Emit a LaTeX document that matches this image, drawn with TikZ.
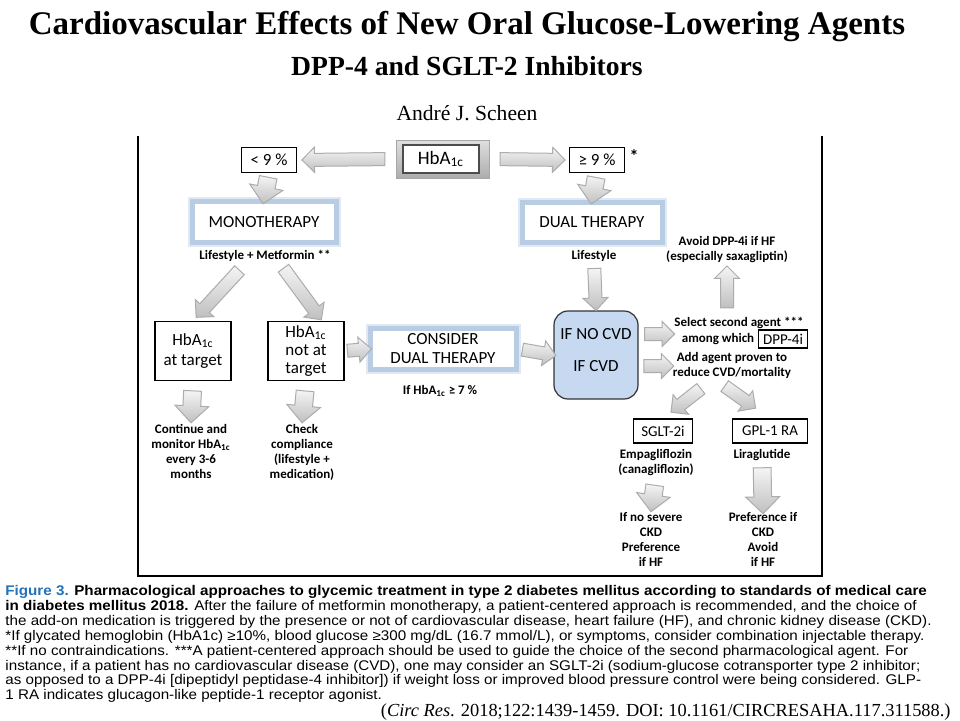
\documentclass[tikz,border=0pt]{standalone}
\usepackage{fontspec}
\setmainfont{Carlito}
\newfontfamily\timesfont{Liberation Serif}
\newfontfamily\arialfont{Liberation Sans}
\usetikzlibrary{shapes.arrows}
\definecolor{glow}{RGB}{184,204,228}
\definecolor{cvdblue}{RGB}{198,217,241}
\definecolor{figblue}{RGB}{35,113,185}
\newcommand{\hbaic}{HbA\textsubscript{1c}}

\begin{document}
\begin{tikzpicture}[x=0.5pt,y=-0.5pt,
  box/.style={draw, line width=0.8pt, fill=white, inner sep=0pt, align=center, font=\fontsize{8.5}{10}\selectfont},
  glowbox/.style={box, draw=glow, line width=2.5pt, preaction={draw=glow!45, line width=4.5pt}},
  lbl/.style={align=center, inner sep=0pt, font=\bfseries\fontsize{6.5}{7.5}\selectfont},
  fat/.style={single arrow, draw=gray!65, line width=0.5pt, top color=gray!8, bottom color=gray!50,
    inner sep=3pt, single arrow head extend=3pt, minimum height=#1, sloped, allow upside down, midway},
  stub/.style={fat=#1, inner sep=4.2pt, single arrow head extend=4pt}]
\fill[white] (0,0) rectangle (960,720);
\useasboundingbox (0,0) rectangle (960,720);

\node[font=\timesfont\bfseries\fontsize{16.5}{18}\selectfont] (title) at (467,27) {Cardiovascular Effects of New Oral Glucose-Lowering Agents};
\node[font=\timesfont\bfseries\fontsize{13.8}{16}\selectfont] (subtitle) at (467,66) {DPP-4 and SGLT-2 Inhibitors};
\node[font=\timesfont\fontsize{10.8}{13}\selectfont] (author) at (467,113) {André J. Scheen};

\draw[line width=0.8pt] (138,136) -- (138,576) -- (822,576) -- (822,136);

\node[draw=gray!70, line width=0.5pt, top color=gray!25, bottom color=gray!65, minimum width=46.5pt, minimum height=19pt] (hbaout) at (443,159) {};
\node[box, draw=gray!60!black, font=\fontsize{9.5}{11}\selectfont, minimum width=38pt, minimum height=14pt] (hba) at (441,159) {\hbaic};
\node[box, minimum width=27.5pt, minimum height=12.5pt] (lt) at (269,160) {< 9 \%};
\node[box, minimum width=27.5pt, minimum height=12.5pt] (ge) at (597,160) {≥ 9 \%};
\node[font=\bfseries\fontsize{9}{10}\selectfont] (star) at (634,156) {*};

\node[glowbox, minimum width=72pt, minimum height=20.5pt] (mono) at (264,222) {MONOTHERAPY};
\node[glowbox, minimum width=70pt, minimum height=20pt] (dual) at (592,222) {DUAL THERAPY};
\node[lbl] (lifemet) at (265,256) {Lifestyle + Metformin **};
\node[lbl] (life) at (594,256) {Lifestyle};
\node[lbl] (avoid) at (727,250) {Avoid DPP-4i if HF\\(especially saxagliptin)};

\node[box, minimum width=38pt, minimum height=29.5pt, font=\fontsize{8.5}{10}\selectfont] (attarget) at (193,351) {\hbaic\\at target};
\node[box, minimum width=38pt, minimum height=29.5pt, font=\fontsize{8.5}{9.2}\selectfont] (notat) at (306,351) {\hbaic\\not at\\target};
\node[glowbox, minimum width=73pt, minimum height=20.5pt, font=\fontsize{8.5}{9.5}\selectfont] (consider) at (443,349) {CONSIDER\\DUAL THERAPY};
\node[lbl] (if7) at (440,391) {If \hbaic{} ≥ 7 \%};

\node[draw=gray!40!black, line width=0.6pt, fill=cvdblue, rounded corners=7pt, minimum width=42pt, minimum height=44pt] (cvd) at (596,355) {};
\node[font=\fontsize{8.5}{10}\selectfont] (nocvd) at (596,334) {IF NO CVD};
\node[font=\fontsize{8.5}{10}\selectfont] (ifcvd) at (596,366) {IF CVD};

\node[lbl] (select) at (739,323) {Select second agent ***};
\node[lbl] (among) at (718,339) {among which};
\node[box, minimum width=24.5pt, minimum height=9pt, line width=0.6pt, font=\fontsize{7.5}{9}\selectfont] (dpp) at (783,339) {DPP-4i};
\node[lbl] (addagent) at (732,365) {Add agent proven to\\reduce CVD/mortality};

\node[box, minimum width=29.5pt, minimum height=12pt, line width=0.6pt, font=\fontsize{7.5}{9}\selectfont] (sglt) at (663,431) {SGLT-2i};
\node[box, minimum width=37.5pt, minimum height=12pt, line width=0.6pt, font=\fontsize{7.5}{9}\selectfont] (glp) at (770,431) {GPL-1 RA};
\node[lbl] (empa) at (656,463) {Empagliflozin\\(canagliflozin)};
\node[lbl] (lira) at (762,455) {Liraglutide};

\node[lbl] (cont) at (191,451) {Continue and\\monitor \hbaic\\every 3-6\\months};
\node[lbl] (check) at (302,452) {Check\\compliance\\(lifestyle +\\medication)};
\node[lbl] (nosev) at (651,539) {If no severe\\CKD\\Preference\\if HF};
\node[lbl] (prefck) at (763,539) {Preference if\\CKD\\Avoid\\if HF};

\path (hbaout.west) -- (lt.east) node[fat=41.5pt] {};
\path (hbaout.east) -- (ge.west) node[fat=32.5pt] {};
\path (lt.south) -- (mono.north) node[stub=13.5pt] {};
\path (ge.south) -- (dual.north) node[stub=13.5pt] {};
\path ([xshift=-9pt]lifemet.south) -- (attarget.north) node[fat=32pt] {};
\path ([xshift=7pt]lifemet.south) -- ([xshift=8pt]notat.north) node[fat=32pt] {};
\path (attarget.south) -- (cont.north) node[stub=16pt] {};
\path (notat.south) -- (check.north) node[stub=16pt] {};
\path (notat.east) -- (consider.west) node[fat=12pt] {};
\path (consider.east) -- (cvd.west) node[fat=17pt] {};
\path (life.south) -- (cvd.north) node[fat=21pt] {};
\path (avoid.south |- select.north) -- (avoid.south) node[fat=21pt] {};
\path (nocvd -| cvd.east) -- (nocvd -| select.west) node[fat=15pt] {};
\path (ifcvd -| cvd.east) -- (ifcvd -| addagent.west) node[fat=15pt] {};
\path ([xshift=-9pt]addagent.south) -- (sglt.north) node[fat=19pt] {};
\path ([xshift=-9pt]addagent.south) -- (glp.north) node[fat=19pt, pos=0.42] {};
\path (empa.south) -- (nosev.north) node[stub=12.5pt] {};
\path (lira.south) -- (prefck.north) node[stub=23pt] {};

\node[anchor=north west, align=left, inner sep=0pt, xscale=1.085, font=\arialfont\fontsize{7}{7.45}\selectfont] (caption) at (5,585) {\textbf{\textcolor{figblue}{Figure 3.} Pharmacological approaches to glycemic treatment in type 2 diabetes mellitus according to standards of medical care}\\
\textbf{in diabetes mellitus 2018.} After the failure of metformin monotherapy, a patient-centered approach is recommended, and the choice of\\
the add-on medication is triggered by the presence or not of cardiovascular disease, heart failure (HF), and chronic kidney disease (CKD).\\
*If glycated hemoglobin (HbA1c) ≥10\%, blood glucose ≥300 mg/dL (16.7 mmol/L), or symptoms, consider combination injectable therapy.\\
**If no contraindications. ***A patient-centered approach should be used to guide the choice of the second pharmacological agent. For\\
instance, if a patient has no cardiovascular disease (CVD), one may consider an SGLT-2i (sodium-glucose cotransporter type 2 inhibitor;\\
as opposed to a DPP-4i [dipeptidyl peptidase-4 inhibitor]) if weight loss or improved blood pressure control were being considered. GLP-\\
1 RA indicates glucagon-like peptide-1 receptor agonist.};
\node[anchor=east, inner sep=0pt, font=\timesfont\fontsize{9.2}{11}\selectfont] (cite) at (951,712) {(\textit{Circ Res}. 2018;122:1439-1459. DOI: 10.1161/CIRCRESAHA.117.311588.)};
\end{tikzpicture}
\end{document}
